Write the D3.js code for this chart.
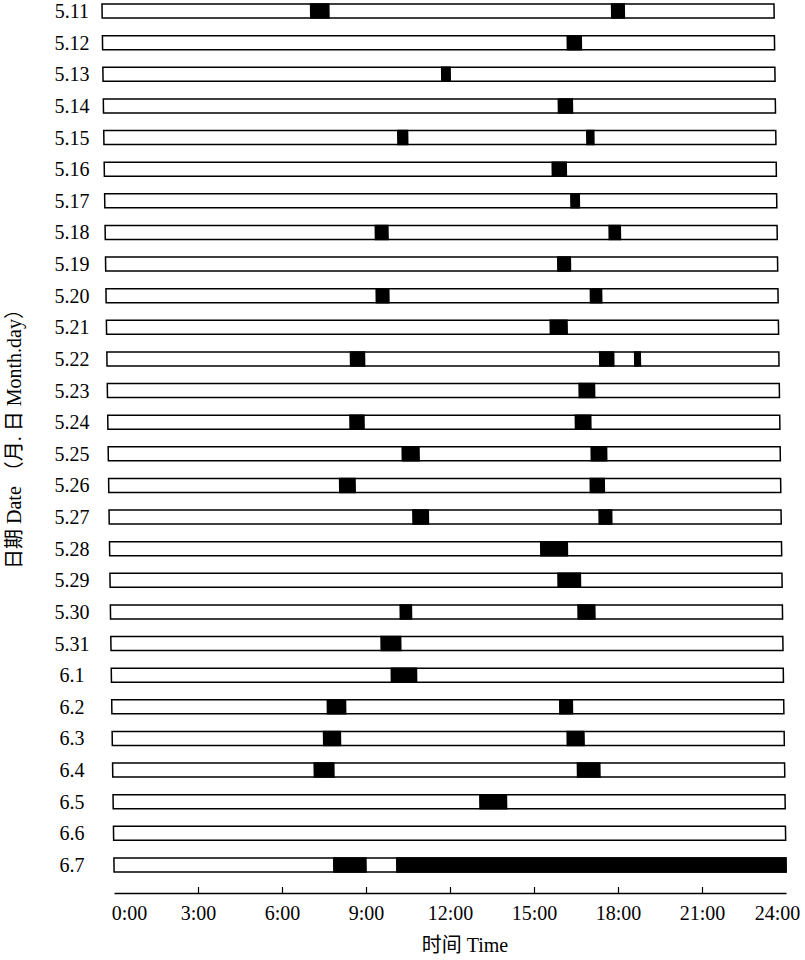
<!DOCTYPE html>
<html>
<head>
<meta charset="utf-8">
<script src="https://cdn.jsdelivr.net/npm/d3@7"></script>
<style>
  body { margin: 0; background: #fff; }
  text { font-family: "Liberation Serif", "Noto Sans CJK SC", serif; fill: #000; }
</style>
</head>
<body>
<script>
var width = 805,
    height = 960;

var dates = ["5.11", "5.12", "5.13", "5.14", "5.15", "5.16", "5.17", "5.18", "5.19", "5.20",
             "5.21", "5.22", "5.23", "5.24", "5.25", "5.26", "5.27", "5.28", "5.29", "5.30",
             "5.31", "6.1", "6.2", "6.3", "6.4", "6.5", "6.6", "6.7"];

// black blocks: [date, start hour, end hour]
var blocks = [
  ["5.11", 7.45, 8.1], ["5.11", 18.2, 18.65],
  ["5.12", 16.6, 17.1],
  ["5.13", 12.1, 12.4],
  ["5.14", 16.25, 16.75],
  ["5.15", 10.5, 10.85], ["5.15", 17.25, 17.5],
  ["5.16", 16.0, 16.5],
  ["5.17", 16.65, 16.95],
  ["5.18", 9.65, 10.1], ["5.18", 18.0, 18.4],
  ["5.19", 16.15, 16.6],
  ["5.20", 9.65, 10.1], ["5.20", 17.3, 17.7],
  ["5.21", 15.85, 16.45],
  ["5.22", 8.7, 9.2], ["5.22", 17.6, 18.1], ["5.22", 18.85, 19.05],
  ["5.23", 16.85, 17.4],
  ["5.24", 8.65, 9.15], ["5.24", 16.7, 17.25],
  ["5.25", 10.5, 11.1], ["5.25", 17.25, 17.8],
  ["5.26", 8.25, 8.8], ["5.26", 17.2, 17.7],
  ["5.27", 10.85, 11.4], ["5.27", 17.5, 17.95],
  ["5.28", 15.4, 16.35],
  ["5.29", 16.0, 16.8],
  ["5.30", 10.35, 10.75], ["5.30", 16.7, 17.3],
  ["5.31", 9.65, 10.35],
  ["6.1", 10.0, 10.9],
  ["6.2", 7.7, 8.35], ["6.2", 16.0, 16.45],
  ["6.3", 7.55, 8.15], ["6.3", 16.25, 16.85],
  ["6.4", 7.2, 7.9], ["6.4", 16.6, 17.4],
  ["6.5", 13.1, 14.05],
  ["6.7", 7.85, 9.0], ["6.7", 10.1, 24]
];

var hourTicks = [0, 3, 6, 9, 12, 15, 18, 21, 24];
var tickLabels = ["0:00", "3:00", "6:00", "9:00", "12:00", "15:00", "18:00", "21:00", "24:00"];

var x = d3.scaleLinear()
    .domain([0, 24])
    .range([114, 786]);

var y = d3.scalePoint()
    .domain(dates)
    .range([11, 865]);

var barH = 14,
    axisY = 893,
    skew = 0.8;   // the printed chart is slightly sheared

var svg = d3.select("body")
    .append("svg")
    .attr("width", width)
    .attr("height", height);

var plot = svg.append("g")
    .attr("transform", "translate(0," + y("6.7") + ") skewX(" + skew + ") translate(0," + (-y("6.7")) + ")");

// day bars
plot.selectAll("rect.day")
    .data(dates)
    .enter()
    .append("rect")
    .attr("class", "day")
    .attr("x", x(0))
    .attr("y", function(d) { return y(d) - barH / 2; })
    .attr("width", x(24) - x(0))
    .attr("height", barH)
    .attr("fill", "#fff")
    .attr("stroke", "#000")
    .attr("stroke-width", 1.5);

// active blocks
plot.selectAll("rect.block")
    .data(blocks)
    .enter()
    .append("rect")
    .attr("class", "block")
    .attr("x", function(d) { return x(d[1]); })
    .attr("y", function(d) { return y(d[0]) - barH / 2; })
    .attr("width", function(d) { return x(d[2]) - x(d[1]); })
    .attr("height", barH)
    .attr("fill", "#000")
    .attr("stroke", "#000")
    .attr("stroke-width", 1.5);

// date labels
svg.selectAll("text.date")
    .data(dates)
    .enter()
    .append("text")
    .attr("class", "date")
    .attr("x", 72)
    .attr("y", function(d) { return y(d); })
    .attr("dy", "0.35em")
    .attr("text-anchor", "middle")
    .style("font-size", "20px")
    .text(function(d) { return d; });

// time axis
var xAxis = d3.axisBottom(x)
    .tickValues(hourTicks)
    .tickSizeInner(-6)
    .tickSizeOuter(0)
    .tickPadding(13)
    .tickFormat(function(d, i) { return tickLabels[i]; });

var gx = svg.append("g")
    .attr("transform", "translate(0," + axisY + ")")
    .call(xAxis);

gx.select(".domain").attr("stroke", "#000").attr("stroke-width", 1.5);
gx.selectAll(".tick line")
    .attr("stroke", "#000")
    .attr("stroke-width", 1.2)
    .filter(function(d) { return d === 0 || d === 24; })
    .remove();
gx.selectAll(".tick text")
    .style("font-size", "20px")
    .style("font-family", "Liberation Serif, serif")
    .attr("fill", "#000")
    .attr("dx", function(d) { return d === 0 ? 15 : (d === 24 ? -9 : 0); });

// axis titles
svg.append("text")
    .attr("x", 465)
    .attr("y", 952)
    .attr("text-anchor", "middle")
    .style("font-size", "20px")
    .text("时间  Time");

svg.append("text")
    .attr("transform", "translate(21,434) rotate(-90)")
    .attr("text-anchor", "middle")
    .style("font-size", "20px")
    .text("日期  Date （月. 日  Month.day）");
</script>
</body>
</html>
